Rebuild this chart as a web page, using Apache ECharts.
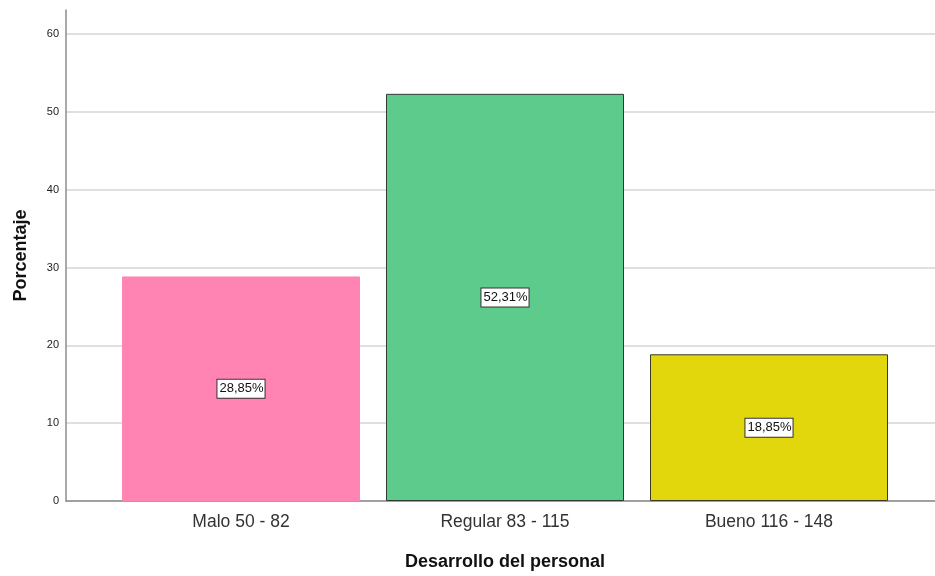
<!DOCTYPE html>
<html>
<head>
<meta charset="utf-8">
<script src="https://cdn.jsdelivr.net/npm/echarts@6/dist/echarts.min.js"></script>
<style>html,body{margin:0;padding:0;background:#fff}#c{width:935px;height:576px}</style>
</head>
<body>
<div id="c"></div>
<script>
var categories = ['Malo 50 - 82', 'Regular 83 - 115', 'Bueno 116 - 148'];
var values = [28.85, 52.31, 18.85];
var barColors = ['#ff84b4', '#5ccb8c', '#e2d70d'];
var barBorders = ['#ff84b4', '#2f3a33', '#3a3a20'];
var yTicks = [0, 10, 20, 30, 40, 50, 60];
var xTitle = 'Desarrollo del personal';
var yTitle = 'Porcentaje';

var FONT = '"Liberation Sans", Arial, sans-serif';
var yMax = 60 * 491 / 467;

var chart = echarts.init(document.getElementById('c'), null, {renderer: 'canvas'});
chart.setOption({
  animation: false,
  backgroundColor: '#fff',
  grid: [
    {left: 66, right: 0, top: 10, bottom: 75},
    {left: 109, width: 792, top: 10, bottom: 75}
  ],
  xAxis: [
    {gridIndex: 0, type: 'value', min: 0, max: 1,
     axisLine: {show: true, lineStyle: {color: '#8c8c8c', width: 1.5}},
     axisTick: {show: false}, axisLabel: {show: false}, splitLine: {show: false}},
    {gridIndex: 1, type: 'category', data: categories,
     axisLine: {show: false}, axisTick: {show: false},
     axisLabel: {color: '#333', fontSize: 17.5, fontFamily: FONT, margin: 12},
     name: xTitle, nameLocation: 'middle', nameGap: 52,
     nameTextStyle: {color: '#111', fontSize: 18, fontWeight: 'bold', fontFamily: FONT}}
  ],
  yAxis: [
    {gridIndex: 0, type: 'value', min: 0, max: yMax,
     axisLine: {show: true, lineStyle: {color: '#8c8c8c', width: 1.5}},
     axisTick: {show: false, customValues: yTicks},
     axisLabel: {customValues: yTicks, color: '#222', fontSize: 11, fontFamily: FONT, margin: 7},
     splitLine: {show: true, lineStyle: {color: '#d4d4d4', width: 1.5}},
     name: yTitle, nameLocation: 'middle', nameGap: 36, nameRotate: 90,
     nameTextStyle: {color: '#111', fontSize: 18, fontWeight: 'bold', fontFamily: FONT}},
    {gridIndex: 1, type: 'value', min: 0, max: yMax, show: false, splitLine: {show: false}}
  ],
  series: [{
    type: 'bar',
    xAxisIndex: 1, yAxisIndex: 1,
    barWidth: 238,
    data: values.map(function (v, i) {
      return {value: v, itemStyle: {color: barColors[i], borderColor: barBorders[i], borderWidth: 1}};
    }),
    label: {
      show: true, position: 'inside',
      formatter: function (p) { return p.value.toFixed(2).replace('.', ',') + '%'; },
      color: '#111', fontSize: 13, fontFamily: FONT,
      backgroundColor: '#fff', borderColor: '#333', borderWidth: 1,
      padding: [3, 1, 2, 2]
    }
  }]
});
</script>
</body>
</html>
